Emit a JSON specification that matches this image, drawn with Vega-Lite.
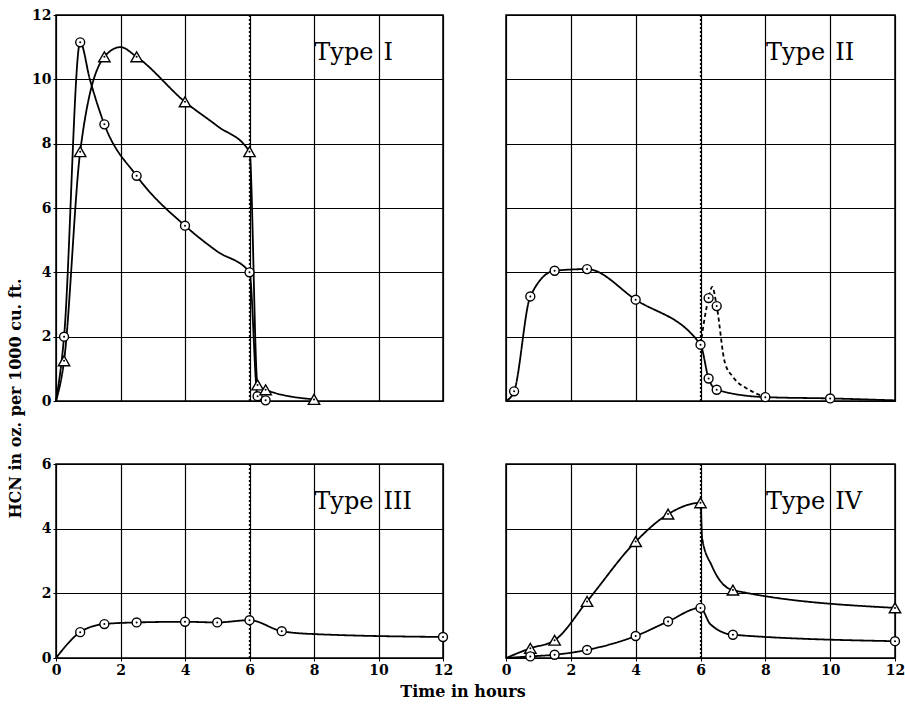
{
  "$schema": "https://vega.github.io/schema/vega-lite/v6.json",
  "background": "white",
  "padding": {"left": 7, "top": 7, "right": 5, "bottom": 5},
  "title": {"text": "HCN in oz. per 1000 cu. ft.", "orient": "left", "anchor": "middle", "font": "DejaVu Serif", "fontSize": 16, "fontWeight": "bold", "color": "black", "offset": 7, "dx": -45},
  "datasets": {
    "hcn": [
      {"panel": "I", "curve": "I-o", "series": "circle", "line": "solid", "observed": false, "t": 0, "hcn": 0},
      {"panel": "I", "curve": "I-o", "series": "circle", "line": "solid", "observed": true, "t": 0.25, "hcn": 2.0},
      {"panel": "I", "curve": "I-o", "series": "circle", "line": "solid", "observed": true, "t": 0.75, "hcn": 11.15},
      {"panel": "I", "curve": "I-o", "series": "circle", "line": "solid", "observed": false, "t": 1.05, "hcn": 10.0},
      {"panel": "I", "curve": "I-o", "series": "circle", "line": "solid", "observed": true, "t": 1.5, "hcn": 8.6},
      {"panel": "I", "curve": "I-o", "series": "circle", "line": "solid", "observed": true, "t": 2.5, "hcn": 7.0},
      {"panel": "I", "curve": "I-o", "series": "circle", "line": "solid", "observed": true, "t": 4, "hcn": 5.45},
      {"panel": "I", "curve": "I-o", "series": "circle", "line": "solid", "observed": false, "t": 5, "hcn": 4.65},
      {"panel": "I", "curve": "I-o", "series": "circle", "line": "solid", "observed": true, "t": 6, "hcn": 4.0},
      {"panel": "I", "curve": "I-o", "series": "circle", "line": "solid", "observed": true, "t": 6.25, "hcn": 0.15},
      {"panel": "I", "curve": "I-o", "series": "circle", "line": "solid", "observed": true, "t": 6.5, "hcn": 0.02},
      {"panel": "I", "curve": "I-t", "series": "triangle", "line": "solid", "observed": false, "t": 0, "hcn": 0},
      {"panel": "I", "curve": "I-t", "series": "triangle", "line": "solid", "observed": true, "t": 0.25, "hcn": 1.25},
      {"panel": "I", "curve": "I-t", "series": "triangle", "line": "solid", "observed": true, "t": 0.75, "hcn": 7.75},
      {"panel": "I", "curve": "I-t", "series": "triangle", "line": "solid", "observed": true, "t": 1.5, "hcn": 10.7},
      {"panel": "I", "curve": "I-t", "series": "triangle", "line": "solid", "observed": false, "t": 2.0, "hcn": 11.0},
      {"panel": "I", "curve": "I-t", "series": "triangle", "line": "solid", "observed": true, "t": 2.5, "hcn": 10.7},
      {"panel": "I", "curve": "I-t", "series": "triangle", "line": "solid", "observed": true, "t": 4, "hcn": 9.3},
      {"panel": "I", "curve": "I-t", "series": "triangle", "line": "solid", "observed": false, "t": 5, "hcn": 8.55},
      {"panel": "I", "curve": "I-t", "series": "triangle", "line": "solid", "observed": true, "t": 6, "hcn": 7.75},
      {"panel": "I", "curve": "I-t", "series": "triangle", "line": "solid", "observed": true, "t": 6.25, "hcn": 0.5},
      {"panel": "I", "curve": "I-t", "series": "triangle", "line": "solid", "observed": true, "t": 6.5, "hcn": 0.35},
      {"panel": "I", "curve": "I-t", "series": "triangle", "line": "solid", "observed": true, "t": 8, "hcn": 0.05},
      {"panel": "II", "curve": "II-o", "series": "circle", "line": "solid", "observed": false, "t": 0, "hcn": 0},
      {"panel": "II", "curve": "II-o", "series": "circle", "line": "solid", "observed": true, "t": 0.25, "hcn": 0.3},
      {"panel": "II", "curve": "II-o", "series": "circle", "line": "solid", "observed": true, "t": 0.75, "hcn": 3.25},
      {"panel": "II", "curve": "II-o", "series": "circle", "line": "solid", "observed": true, "t": 1.5, "hcn": 4.05},
      {"panel": "II", "curve": "II-o", "series": "circle", "line": "solid", "observed": true, "t": 2.5, "hcn": 4.1},
      {"panel": "II", "curve": "II-o", "series": "circle", "line": "solid", "observed": true, "t": 4, "hcn": 3.15},
      {"panel": "II", "curve": "II-o", "series": "circle", "line": "solid", "observed": true, "t": 6, "hcn": 1.75},
      {"panel": "II", "curve": "II-o", "series": "circle", "line": "solid", "observed": true, "t": 6.25, "hcn": 0.7},
      {"panel": "II", "curve": "II-o", "series": "circle", "line": "solid", "observed": true, "t": 6.5, "hcn": 0.35},
      {"panel": "II", "curve": "II-o", "series": "circle", "line": "solid", "observed": true, "t": 8, "hcn": 0.12},
      {"panel": "II", "curve": "II-o", "series": "circle", "line": "solid", "observed": true, "t": 10, "hcn": 0.08},
      {"panel": "II", "curve": "II-o", "series": "circle", "line": "solid", "observed": false, "t": 12, "hcn": 0.02},
      {"panel": "II", "curve": "II-d", "series": "circle", "line": "dashed", "observed": false, "t": 6, "hcn": 1.75},
      {"panel": "II", "curve": "II-d", "series": "circle", "line": "dashed", "observed": true, "t": 6.25, "hcn": 3.2},
      {"panel": "II", "curve": "II-d", "series": "circle", "line": "dashed", "observed": false, "t": 6.36, "hcn": 3.55},
      {"panel": "II", "curve": "II-d", "series": "circle", "line": "dashed", "observed": true, "t": 6.5, "hcn": 2.95},
      {"panel": "II", "curve": "II-d", "series": "circle", "line": "dashed", "observed": false, "t": 6.75, "hcn": 1.2},
      {"panel": "II", "curve": "II-d", "series": "circle", "line": "dashed", "observed": false, "t": 7.0, "hcn": 0.75},
      {"panel": "II", "curve": "II-d", "series": "circle", "line": "dashed", "observed": false, "t": 7.5, "hcn": 0.35},
      {"panel": "II", "curve": "II-d", "series": "circle", "line": "dashed", "observed": false, "t": 8, "hcn": 0.12},
      {"panel": "III", "curve": "III-o", "series": "circle", "line": "solid", "observed": false, "t": 0, "hcn": 0},
      {"panel": "III", "curve": "III-o", "series": "circle", "line": "solid", "observed": true, "t": 0.75, "hcn": 0.8},
      {"panel": "III", "curve": "III-o", "series": "circle", "line": "solid", "observed": true, "t": 1.5, "hcn": 1.05},
      {"panel": "III", "curve": "III-o", "series": "circle", "line": "solid", "observed": true, "t": 2.5, "hcn": 1.1},
      {"panel": "III", "curve": "III-o", "series": "circle", "line": "solid", "observed": true, "t": 4, "hcn": 1.12},
      {"panel": "III", "curve": "III-o", "series": "circle", "line": "solid", "observed": true, "t": 5, "hcn": 1.1},
      {"panel": "III", "curve": "III-o", "series": "circle", "line": "solid", "observed": true, "t": 6, "hcn": 1.17},
      {"panel": "III", "curve": "III-o", "series": "circle", "line": "solid", "observed": true, "t": 7, "hcn": 0.83},
      {"panel": "III", "curve": "III-o", "series": "circle", "line": "solid", "observed": false, "t": 8, "hcn": 0.74},
      {"panel": "III", "curve": "III-o", "series": "circle", "line": "solid", "observed": true, "t": 12, "hcn": 0.65},
      {"panel": "IV", "curve": "IV-t", "series": "triangle", "line": "solid", "observed": false, "t": 0, "hcn": 0},
      {"panel": "IV", "curve": "IV-t", "series": "triangle", "line": "solid", "observed": true, "t": 0.75, "hcn": 0.3},
      {"panel": "IV", "curve": "IV-t", "series": "triangle", "line": "solid", "observed": true, "t": 1.5, "hcn": 0.55},
      {"panel": "IV", "curve": "IV-t", "series": "triangle", "line": "solid", "observed": true, "t": 2.5, "hcn": 1.75},
      {"panel": "IV", "curve": "IV-t", "series": "triangle", "line": "solid", "observed": true, "t": 4, "hcn": 3.6},
      {"panel": "IV", "curve": "IV-t", "series": "triangle", "line": "solid", "observed": true, "t": 5, "hcn": 4.45},
      {"panel": "IV", "curve": "IV-t", "series": "triangle", "line": "solid", "observed": true, "t": 6, "hcn": 4.8},
      {"panel": "IV", "curve": "IV-t", "series": "triangle", "line": "solid", "observed": false, "t": 6.05, "hcn": 3.7},
      {"panel": "IV", "curve": "IV-t", "series": "triangle", "line": "solid", "observed": false, "t": 6.35, "hcn": 2.85},
      {"panel": "IV", "curve": "IV-t", "series": "triangle", "line": "solid", "observed": true, "t": 7, "hcn": 2.1},
      {"panel": "IV", "curve": "IV-t", "series": "triangle", "line": "solid", "observed": true, "t": 12, "hcn": 1.55},
      {"panel": "IV", "curve": "IV-o", "series": "circle", "line": "solid", "observed": false, "t": 0, "hcn": 0},
      {"panel": "IV", "curve": "IV-o", "series": "circle", "line": "solid", "observed": true, "t": 0.75, "hcn": 0.05},
      {"panel": "IV", "curve": "IV-o", "series": "circle", "line": "solid", "observed": true, "t": 1.5, "hcn": 0.1},
      {"panel": "IV", "curve": "IV-o", "series": "circle", "line": "solid", "observed": true, "t": 2.5, "hcn": 0.25},
      {"panel": "IV", "curve": "IV-o", "series": "circle", "line": "solid", "observed": true, "t": 4, "hcn": 0.68},
      {"panel": "IV", "curve": "IV-o", "series": "circle", "line": "solid", "observed": true, "t": 5, "hcn": 1.13},
      {"panel": "IV", "curve": "IV-o", "series": "circle", "line": "solid", "observed": true, "t": 6, "hcn": 1.55},
      {"panel": "IV", "curve": "IV-o", "series": "circle", "line": "solid", "observed": false, "t": 6.3, "hcn": 1.05},
      {"panel": "IV", "curve": "IV-o", "series": "circle", "line": "solid", "observed": true, "t": 7, "hcn": 0.72},
      {"panel": "IV", "curve": "IV-o", "series": "circle", "line": "solid", "observed": true, "t": 12, "hcn": 0.52}
    ]
  },
  "spacing": 47,
  "vconcat": [
    {
      "spacing": 63,
      "bounds": "flush",
      "hconcat": [
        {
          "width": 387, "height": 386,
          "layer": [
            {"data": {"values": [{"t": 6}]}, "mark": {"type": "rule", "color": "black", "strokeWidth": 1.3, "strokeDash": [2, 2]},
             "encoding": {"x": {"field": "t", "type": "quantitative", "title": null, "scale": {"domain": [0, 12], "nice": false}, "axis": {"values": [0, 2, 4, 6, 8, 10, 12], "labels": false, "ticks": false, "title": null}}}},
            {"data": {"name": "hcn"}, "transform": [{"filter": "datum.panel === 'I'"}],
             "encoding": {
               "x": {"field": "t", "type": "quantitative", "title": null, "scale": {"domain": [0, 12], "nice": false}, "axis": {"values": [0, 2, 4, 6, 8, 10, 12], "labels": false, "ticks": false, "title": null}},
               "y": {"field": "hcn", "type": "quantitative", "title": null, "scale": {"domain": [0, 12], "nice": false}, "axis": {"values": [0, 2, 4, 6, 8, 10, 12], "title": null}}
             },
             "layer": [
               {"mark": {"type": "line", "interpolate": "monotone", "color": "black", "strokeWidth": 1.8},
                "encoding": {"detail": {"field": "curve"}, "strokeDash": {"field": "line", "type": "nominal", "scale": {"domain": ["solid", "dashed"], "range": [[1, 0], [4, 3]]}, "legend": null}}},
               {"transform": [{"filter": "datum.observed"}], "mark": {"type": "point", "filled": true, "fill": "white", "stroke": "black", "strokeWidth": 1.4, "opacity": 1},
                "encoding": {"shape": {"field": "series", "type": "nominal", "scale": {"domain": ["circle", "triangle"], "range": ["circle", "triangle-up"]}, "legend": null},
                             "size": {"field": "series", "type": "nominal", "scale": {"domain": ["circle", "triangle"], "range": [80, 130]}, "legend": null}}},
               {"transform": [{"filter": "datum.observed"}], "mark": {"type": "point", "filled": true, "color": "black", "size": 4, "opacity": 1}}
             ]},
            {"data": {"values": [{"numeral": "I"}]}, "mark": {"type": "text", "text": "Type", "align": "right", "dx": -5, "baseline": "middle", "font": "DejaVu Serif", "fontSize": 24, "color": "black"},
             "encoding": {"x": {"datum": 10, "type": "quantitative"}, "y": {"datum": 10.82, "type": "quantitative"}}},
            {"data": {"values": [{"numeral": "I"}]}, "mark": {"type": "text", "align": "left", "dx": 5, "baseline": "middle", "font": "DejaVu Serif", "fontSize": 24, "color": "black"},
             "encoding": {"x": {"datum": 10, "type": "quantitative"}, "y": {"datum": 10.82, "type": "quantitative"}, "text": {"field": "numeral"}}}
          ]
        },
        {
          "width": 389, "height": 386,
          "layer": [
            {"data": {"values": [{"t": 6}]}, "mark": {"type": "rule", "color": "black", "strokeWidth": 1.3, "strokeDash": [2, 2]},
             "encoding": {"x": {"field": "t", "type": "quantitative", "title": null, "scale": {"domain": [0, 12], "nice": false}, "axis": {"values": [0, 2, 4, 6, 8, 10, 12], "labels": false, "ticks": false, "title": null}}}},
            {"data": {"name": "hcn"}, "transform": [{"filter": "datum.panel === 'II'"}],
             "encoding": {
               "x": {"field": "t", "type": "quantitative", "title": null, "scale": {"domain": [0, 12], "nice": false}, "axis": {"values": [0, 2, 4, 6, 8, 10, 12], "labels": false, "ticks": false, "title": null}},
               "y": {"field": "hcn", "type": "quantitative", "title": null, "scale": {"domain": [0, 12], "nice": false}, "axis": {"values": [0, 2, 4, 6, 8, 10, 12], "labels": false, "ticks": false, "title": null}}
             },
             "layer": [
               {"mark": {"type": "line", "interpolate": "monotone", "color": "black", "strokeWidth": 1.8},
                "encoding": {"detail": {"field": "curve"}, "strokeDash": {"field": "line", "type": "nominal", "scale": {"domain": ["solid", "dashed"], "range": [[1, 0], [4, 3]]}, "legend": null}}},
               {"transform": [{"filter": "datum.observed"}], "mark": {"type": "point", "filled": true, "fill": "white", "stroke": "black", "strokeWidth": 1.4, "opacity": 1},
                "encoding": {"shape": {"field": "series", "type": "nominal", "scale": {"domain": ["circle", "triangle"], "range": ["circle", "triangle-up"]}, "legend": null},
                             "size": {"field": "series", "type": "nominal", "scale": {"domain": ["circle", "triangle"], "range": [80, 130]}, "legend": null}}},
               {"transform": [{"filter": "datum.observed"}], "mark": {"type": "point", "filled": true, "color": "black", "size": 4, "opacity": 1}}
             ]},
            {"data": {"values": [{"numeral": "II"}]}, "mark": {"type": "text", "text": "Type", "align": "right", "dx": -5, "baseline": "middle", "font": "DejaVu Serif", "fontSize": 24, "color": "black"},
             "encoding": {"x": {"datum": 10, "type": "quantitative"}, "y": {"datum": 10.82, "type": "quantitative"}}},
            {"data": {"values": [{"numeral": "II"}]}, "mark": {"type": "text", "align": "left", "dx": 5, "baseline": "middle", "font": "DejaVu Serif", "fontSize": 24, "color": "black"},
             "encoding": {"x": {"datum": 10, "type": "quantitative"}, "y": {"datum": 10.82, "type": "quantitative"}, "text": {"field": "numeral"}}}
          ]
        }
      ]
    },
    {
      "spacing": 63,
      "bounds": "flush",
      "title": {"text": "Time in hours", "orient": "bottom", "anchor": "middle", "font": "DejaVu Serif", "fontSize": 16, "fontWeight": "bold", "color": "black", "offset": 6, "dx": -10},
      "hconcat": [
        {
          "width": 387, "height": 194,
          "layer": [
            {"data": {"values": [{"t": 6}]}, "mark": {"type": "rule", "color": "black", "strokeWidth": 1.3, "strokeDash": [2, 2]},
             "encoding": {"x": {"field": "t", "type": "quantitative", "title": null, "scale": {"domain": [0, 12], "nice": false}, "axis": {"values": [0, 2, 4, 6, 8, 10, 12], "title": null}}}},
            {"data": {"name": "hcn"}, "transform": [{"filter": "datum.panel === 'III'"}],
             "encoding": {
               "x": {"field": "t", "type": "quantitative", "title": null, "scale": {"domain": [0, 12], "nice": false}, "axis": {"values": [0, 2, 4, 6, 8, 10, 12], "title": null}},
               "y": {"field": "hcn", "type": "quantitative", "title": null, "scale": {"domain": [0, 6], "nice": false}, "axis": {"values": [0, 2, 4, 6], "title": null}}
             },
             "layer": [
               {"mark": {"type": "line", "interpolate": "monotone", "color": "black", "strokeWidth": 1.8},
                "encoding": {"detail": {"field": "curve"}, "strokeDash": {"field": "line", "type": "nominal", "scale": {"domain": ["solid", "dashed"], "range": [[1, 0], [4, 3]]}, "legend": null}}},
               {"transform": [{"filter": "datum.observed"}], "mark": {"type": "point", "filled": true, "fill": "white", "stroke": "black", "strokeWidth": 1.4, "opacity": 1},
                "encoding": {"shape": {"field": "series", "type": "nominal", "scale": {"domain": ["circle", "triangle"], "range": ["circle", "triangle-up"]}, "legend": null},
                             "size": {"field": "series", "type": "nominal", "scale": {"domain": ["circle", "triangle"], "range": [80, 130]}, "legend": null}}},
               {"transform": [{"filter": "datum.observed"}], "mark": {"type": "point", "filled": true, "color": "black", "size": 4, "opacity": 1}}
             ]},
            {"data": {"values": [{"numeral": "III"}]}, "mark": {"type": "text", "text": "Type", "align": "right", "dx": -5, "baseline": "middle", "font": "DejaVu Serif", "fontSize": 24, "color": "black"},
             "encoding": {"x": {"datum": 10, "type": "quantitative"}, "y": {"datum": 4.82, "type": "quantitative"}}},
            {"data": {"values": [{"numeral": "III"}]}, "mark": {"type": "text", "align": "left", "dx": 5, "baseline": "middle", "font": "DejaVu Serif", "fontSize": 24, "color": "black"},
             "encoding": {"x": {"datum": 10, "type": "quantitative"}, "y": {"datum": 4.82, "type": "quantitative"}, "text": {"field": "numeral"}}}
          ]
        },
        {
          "width": 389, "height": 194,
          "layer": [
            {"data": {"values": [{"t": 6}]}, "mark": {"type": "rule", "color": "black", "strokeWidth": 1.3, "strokeDash": [2, 2]},
             "encoding": {"x": {"field": "t", "type": "quantitative", "title": null, "scale": {"domain": [0, 12], "nice": false}, "axis": {"values": [0, 2, 4, 6, 8, 10, 12], "title": null}}}},
            {"data": {"name": "hcn"}, "transform": [{"filter": "datum.panel === 'IV'"}],
             "encoding": {
               "x": {"field": "t", "type": "quantitative", "title": null, "scale": {"domain": [0, 12], "nice": false}, "axis": {"values": [0, 2, 4, 6, 8, 10, 12], "title": null}},
               "y": {"field": "hcn", "type": "quantitative", "title": null, "scale": {"domain": [0, 6], "nice": false}, "axis": {"values": [0, 2, 4, 6], "labels": false, "ticks": false, "title": null}}
             },
             "layer": [
               {"mark": {"type": "line", "interpolate": "monotone", "color": "black", "strokeWidth": 1.8},
                "encoding": {"detail": {"field": "curve"}, "strokeDash": {"field": "line", "type": "nominal", "scale": {"domain": ["solid", "dashed"], "range": [[1, 0], [4, 3]]}, "legend": null}}},
               {"transform": [{"filter": "datum.observed"}], "mark": {"type": "point", "filled": true, "fill": "white", "stroke": "black", "strokeWidth": 1.4, "opacity": 1},
                "encoding": {"shape": {"field": "series", "type": "nominal", "scale": {"domain": ["circle", "triangle"], "range": ["circle", "triangle-up"]}, "legend": null},
                             "size": {"field": "series", "type": "nominal", "scale": {"domain": ["circle", "triangle"], "range": [80, 130]}, "legend": null}}},
               {"transform": [{"filter": "datum.observed"}], "mark": {"type": "point", "filled": true, "color": "black", "size": 4, "opacity": 1}}
             ]},
            {"data": {"values": [{"numeral": "IV"}]}, "mark": {"type": "text", "text": "Type", "align": "right", "dx": -5, "baseline": "middle", "font": "DejaVu Serif", "fontSize": 24, "color": "black"},
             "encoding": {"x": {"datum": 10, "type": "quantitative"}, "y": {"datum": 4.82, "type": "quantitative"}}},
            {"data": {"values": [{"numeral": "IV"}]}, "mark": {"type": "text", "align": "left", "dx": 5, "baseline": "middle", "font": "DejaVu Serif", "fontSize": 24, "color": "black"},
             "encoding": {"x": {"datum": 10, "type": "quantitative"}, "y": {"datum": 4.82, "type": "quantitative"}, "text": {"field": "numeral"}}}
          ]
        }
      ]
    }
  ],
  "config": {
    "view": {"stroke": "black", "strokeWidth": 1.5},
    "axis": {"grid": true, "gridColor": "black", "gridOpacity": 1, "gridWidth": 1.2, "domain": false, "tickColor": "black", "tickSize": 3, "labelFont": "DejaVu Serif", "labelFontWeight": "bold", "labelFontSize": 14, "labelColor": "black", "labelPadding": 2, "labelFlush": false}
  }
}
